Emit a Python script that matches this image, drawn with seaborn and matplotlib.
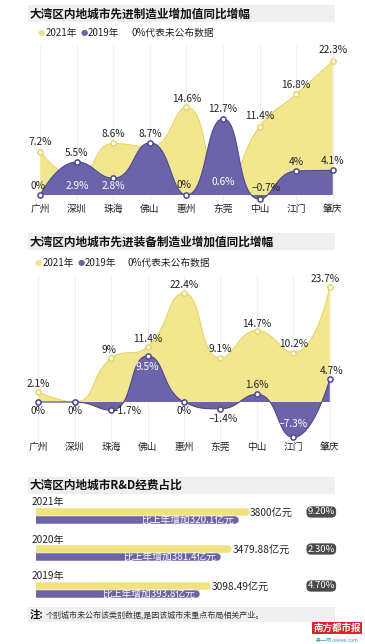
import numpy as np
import pandas as pd
import matplotlib
matplotlib.use("Agg")
import matplotlib.pyplot as plt
import matplotlib.patches as mpatches
import seaborn as sns

# ---------------- data ----------------
cities = ["广州", "深圳", "珠海", "佛山", "惠州", "东莞", "中山", "江门", "肇庆"]
mfg_2021 = [7.2, 2.9, 8.6, 8.0, 14.6, 0.6, 11.4, 16.8, 22.3]
mfg_2019 = [0, 5.5, 2.8, 8.7, 0, 12.7, -0.7, 4, 4.1]
equip_2021 = [2.1, 0, 9, 11.4, 22.4, 9.1, 14.7, 10.2, 23.7]
equip_2019 = [0, 0, -1.7, 9.5, 0, -1.4, 1.6, -7.3, 4.7]
rd_years = ["2021年", "2020年", "2019年"]
rd_values = [3800, 3479.88, 3098.49]
rd_value_labels = ["3800亿元", "3479.88亿元", "3098.49亿元"]
rd_increase_labels = ["比上年增加320.1亿元", "比上年增加381.4亿元", "比上年增加393.8亿元"]
rd_rate_labels = ["9.20%", "2.30%", "4.70%"]

title1 = "大湾区内地城市先进制造业增加值同比增幅"
title2 = "大湾区内地城市先进装备制造业增加值同比增幅"
title3 = "大湾区内地城市R&D经费占比"
legend_items = ["2021年", "2019年", "0%代表未公布数据"]
note_head = "注:"
note_body = "个别城市未公布该类别数据,是因该城市未重点布局相关产业。"

# ---------------- style ----------------
sns.set_theme(style="white")
plt.rcParams["font.family"] = ["Noto Sans CJK SC", "DejaVu Sans"]
plt.rcParams["axes.unicode_minus"] = True

YEL = "#F2E78F"
YEL_EDGE = "#E6D56A"
PUR = "#6C64A9"
PUR_EDGE = "#4E4693"
TXT = "#222222"
BAND = "#EFEFEF"

W, H = 365, 644
fig = plt.figure(figsize=(W / 100, H / 100), dpi=100)
fig.patch.set_facecolor("white")


def fx(x):
    return x / W


def fy(y):
    return 1 - y / H


def add_axes_px(left, top, right, bottom):
    return fig.add_axes([fx(left), fy(bottom), (right - left) / W, (bottom - top) / H])


def band(top, bottom, left=28, right=335):
    fig.patches.append(mpatches.Rectangle((fx(left), fy(bottom)), (right - left) / W,
                                          (bottom - top) / H, transform=fig.transFigure,
                                          facecolor=BAND, edgecolor="none", zorder=0))


def echarts_smooth(ax, xs, ys, smooth=0.5, n=40):
    pts = ax.transData.transform(np.column_stack([xs, ys]).astype(float))
    N = len(pts)
    out = [pts[0]]
    cp0 = pts[0].copy()
    t = np.linspace(0, 1, n)[1:, None]
    for i in range(1, N):
        x, y = pts[i]
        px_, py_ = pts[i - 1]
        if i == N - 1:
            cp1 = pts[i].copy()
            ncp0 = None
        else:
            nx_, ny_ = pts[i + 1]
            vx, vy = nx_ - px_, ny_ - py_
            lp = np.hypot(x - px_, y - py_)
            ln = np.hypot(nx_ - x, ny_ - y)
            r = ln / (ln + lp)
            ncx = x + vx * smooth * r
            ncy = y + vy * smooth * r
            ncx = min(ncx, max(nx_, x)); ncy = min(ncy, max(ny_, y))
            ncx = max(ncx, min(nx_, x)); ncy = max(ncy, min(ny_, y))
            vx, vy = ncx - x, ncy - y
            c1x = x - vx * lp / ln
            c1y = y - vy * lp / ln
            c1x = min(c1x, max(px_, x)); c1y = min(c1y, max(py_, y))
            c1x = max(c1x, min(px_, x)); c1y = max(c1y, min(py_, y))
            vx, vy = x - c1x, y - c1y
            ncp0 = np.array([x + vx * ln / lp, y + vy * ln / lp])
            cp1 = np.array([c1x, c1y])
        P0, P3 = pts[i - 1], pts[i]
        B = ((1 - t) ** 3) * P0 + 3 * ((1 - t) ** 2) * t * cp0 + 3 * (1 - t) * t ** 2 * cp1 + t ** 3 * P3
        out.extend(list(B))
        cp0 = ncp0 if ncp0 is not None else cp0
    out = np.array(out)
    return ax.transData.inverted().transform(out)


def area_panel(ax, v21, v19, ylim, labels, tick_pad):
    xs = np.arange(len(cities))
    ax.set_xlim(-0.5, len(cities) - 0.5)
    ax.set_ylim(*ylim)
    for s in ax.spines.values():
        s.set_visible(False)
    ax.set_yticks([])
    ax.set_xticks(xs)
    ax.set_xticklabels(cities, fontsize=7, color=TXT)
    ax.tick_params(axis="x", length=0, pad=tick_pad)
    for x in xs:
        ax.axvline(x, color="#EDEDED", lw=0.6, zorder=0)
    for vals, fc, ec, z in [(v21, YEL, YEL_EDGE, 1), (v19, PUR, PUR_EDGE, 4)]:
        c = echarts_smooth(ax, xs, vals)
        poly = np.vstack([c, [[c[-1, 0], 0], [c[0, 0], 0]]])
        ax.fill(poly[:, 0], poly[:, 1], color=fc, lw=0, zorder=z)
        sns.lineplot(x=c[:, 0], y=c[:, 1], sort=False, estimator=None, ax=ax,
                     color=ec, lw=0.8, zorder=z + 0.5)
        sns.scatterplot(x=xs, y=vals, ax=ax, s=14, color="white", edgecolor=ec,
                        linewidth=1.1, zorder=z + 1, legend=False)
    series = {"21": v21, "19": v19}
    for key, i, dx, dy, col in labels:
        v = series[key][i]
        txt = f"{v:g}%".replace("-", "−")
        ax.annotate(txt, (i, v), xytext=(dx * 0.72, dy * 0.72), textcoords="offset points",
                    ha="center", va="center", fontsize=7.3, color=col, zorder=10)


def legend_row(y, x0):
    fig.text(fx(x0), fy(y), "●", color="#EFE28A", fontsize=6, ha="center", va="center",
             family="DejaVu Sans")
    fig.text(fx(x0 + 5), fy(y), legend_items[0], fontsize=7, color=TXT, ha="left", va="center")
    fig.text(fx(x0 + 43), fy(y), "●", color=PUR, fontsize=6, ha="center", va="center",
             family="DejaVu Sans")
    fig.text(fx(x0 + 47), fy(y), legend_items[1], fontsize=7, color=TXT, ha="left", va="center")
    fig.text(fx(x0 + 90), fy(y), legend_items[2], fontsize=7, color=TXT, ha="left", va="center")


W_ = "white"
# ---------------- panel 1 ----------------
band(5, 22)
fig.text(fx(30), fy(14), title1, fontsize=8.4, fontweight="bold", color="#111111",
         ha="left", va="center")
legend_row(33, 41)
ax1 = add_axes_px(22, 45, 351, 205)
labels1 = [
    ("21", 0, 0, 10, TXT), ("21", 1, 0, -8.5, W_), ("21", 2, 0, 9, TXT),
    ("21", 4, 0, 8.5, TXT), ("21", 5, 0, 9, W_), ("21", 6, 0, 11, TXT),
    ("21", 7, 0, 9, TXT), ("21", 8, 0, 11, TXT),
    ("19", 0, -2, 9, TXT), ("19", 1, 0, 9, TXT), ("19", 2, 0, -8, W_),
    ("19", 3, 0, 9, TXT), ("19", 4, -2, 10, TXT), ("19", 5, 0, 10, TXT),
    ("19", 6, 7, 11, TXT), ("19", 7, 0, 9, TXT), ("19", 8, 0, 9, TXT),
]
area_panel(ax1, mfg_2021, mfg_2019, (-1.67, 25), labels1, -1)

# ---------------- panel 2 ----------------
band(233, 250)
fig.text(fx(30), fy(242), title2, fontsize=8.4, fontweight="bold", color="#111111",
         ha="left", va="center")
legend_row(263, 38)
ax2 = add_axes_px(20, 275, 348, 441)
labels2 = [
    ("21", 0, 0, 8, TXT), ("21", 2, -2, 8.5, TXT), ("21", 3, 0, 8, TXT),
    ("21", 4, 0, 8, TXT), ("21", 5, 0, 9, TXT), ("21", 6, 0, 7, TXT),
    ("21", 7, 0, 8.5, TXT), ("21", 8, -5, 8, TXT),
    ("19", 0, 0, -9, TXT), ("19", 1, 0, -9, TXT), ("19", 2, 16, -1, TXT),
    ("19", 3, 0, -11, W_), ("19", 4, 0, -9, TXT), ("19", 5, 3, -10, TXT),
    ("19", 6, 0, 9, TXT), ("19", 7, 0, 13, W_), ("19", 8, 2, 8, TXT),
]
area_panel(ax2, equip_2021, equip_2019, (-8.04, 26.19), labels2, 0.5)

# ---------------- panel 3 ----------------
band(477, 494)
fig.text(fx(30), fy(485), title3, fontsize=8.4, fontweight="bold", color="#111111",
         ha="left", va="center")
ax3 = add_axes_px(36, 497.2, 340, 608.2)
ax3.set_xlim(0, 304 * 3800 / 210)
ax3.set_ylim(2.6, -0.4)
ax3.axis("off")
for i, (yr, v) in enumerate(zip(rd_years, rd_values)):
    ax3.plot([0, v], [i, i], color="#F0E37F", lw=5.4, solid_capstyle="round", zorder=2)
    ax3.plot([0, v - 200], [i + 0.21, i + 0.21], color=PUR, lw=5.4,
             solid_capstyle="round", zorder=3)
    ax3.annotate(yr, (0, i), xytext=(-3, 9.5 * 0.72), textcoords="offset points",
                 ha="left", va="center", fontsize=7.3, color=TXT)
    ax3.annotate(rd_value_labels[i], (v, i), xytext=(3, -1 * 0.72), textcoords="offset points",
                 ha="left", va="center", fontsize=7.3, color=TXT)
    ax3.annotate(rd_increase_labels[i], (v - 200, i + 0.21), xytext=(-1, 0),
                 textcoords="offset points", ha="right", va="center", fontsize=7,
                 color="white", zorder=5)
    fig.text(fx(335), fy(512 + 37 * i), rd_rate_labels[i], fontsize=6.8, color="white",
             ha="right", va="center",
             bbox=dict(boxstyle="round,pad=0.12,rounding_size=0.5", fc="#4A4A4A", ec="none"))

# ---------------- note & logo ----------------
band(607, 622)
fig.text(fx(30), fy(615), note_head, fontsize=7.5, fontweight="bold", color="#111111",
         ha="left", va="center")
fig.text(fx(46), fy(615), note_body, fontsize=5.8, color="#333333", ha="left", va="center")
fig.text(fx(337), fy(628), "南方都市报", fontsize=6.8, fontweight="bold", color="white",
         ha="center", va="center",
         bbox=dict(boxstyle="square,pad=0.15", fc="#D8262E", ec="none"))
fig.text(fx(337), fy(640), "奥一网 oeeee.com", fontsize=3.6, color="#3A8FB5",
         ha="center", va="center")

fig.savefig("out.png", dpi=100, facecolor="white")
